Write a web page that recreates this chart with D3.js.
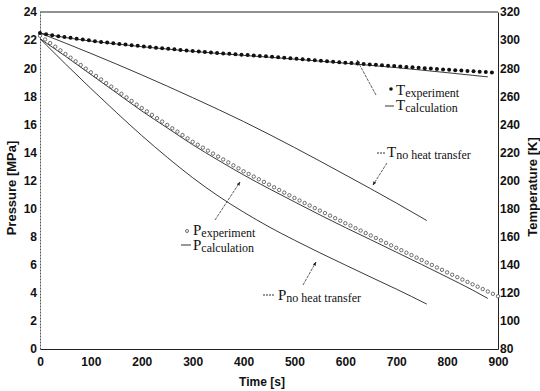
<!DOCTYPE html>
<html>
<head>
<meta charset="utf-8">
<script src="https://cdn.jsdelivr.net/npm/d3@7"></script>
<style>
  body { margin: 0; background: #fff; }
  .tick text { font-family: "Liberation Sans", Arial, sans-serif; font-weight: bold; font-size: 12px; fill: #111; }
  .title { font-family: "Liberation Sans", Arial, sans-serif; font-weight: bold; font-size: 13px; fill: #111; }
  .leg { font-family: "Liberation Serif", "Times New Roman", serif; font-size: 15px; fill: #111; }
  .leg tspan.sub { font-size: 12px; }
</style>
</head>
<body>
<svg id="chart" width="540" height="391"></svg>
<script>
// time axis ticks / pressure ticks / temperature ticks
var timeTicks = [0, 100, 200, 300, 400, 500, 600, 700, 800, 900];
var pTicks = [0, 2, 4, 6, 8, 10, 12, 14, 16, 18, 20, 22, 24];
var tTicks = [80, 100, 120, 140, 160, 180, 200, 220, 240, 260, 280, 300, 320];

// temperature experiment (every 12 s)
var tExpTime = d3.range(0, 889, 12);
var tExp = [305.0, 304.2, 303.5, 302.8, 302.2, 301.6, 301.0, 300.4, 299.8, 299.2,
  298.7, 298.2, 297.7, 297.2, 296.8, 296.3, 295.9, 295.4, 295.0, 294.6,
  294.2, 293.8, 293.4, 293.0, 292.6, 292.2, 291.8, 291.5, 291.1, 290.8,
  290.5, 290.2, 289.9, 289.6, 289.3, 289.0, 288.7, 288.4, 288.1, 287.8,
  287.4, 287.1, 286.7, 286.4, 286.0, 285.7, 285.3, 285.0, 284.6, 284.3,
  283.9, 283.6, 283.3, 283.0, 282.7, 282.4, 282.1, 281.8, 281.5, 281.2,
  280.9, 280.6, 280.3, 280.0, 279.7, 279.4, 279.1, 278.9, 278.6, 278.3,
  278.0, 277.8, 277.5, 277.2, 277.0];

// temperature calculation
var tCalcTime = [0, 50, 100, 150, 200, 250, 300, 350, 400, 450, 500, 550, 600, 650, 700, 750, 800, 850, 880];
var tCalc = [305.0, 301.8, 299.3, 297.2, 295.3, 293.6, 292.0, 290.5, 289.1, 287.8, 286.4, 285.0, 283.5, 282.0, 280.4, 278.6, 276.8, 274.9, 273.8];

// temperature, no heat transfer
var tNoTime = [0, 100, 200, 300, 400, 500, 600, 700, 760];
var tNo = [305.0, 290.5, 275.2, 259.0, 242.0, 223.5, 204.0, 184.0, 171.5];

// pressure experiment (every 10 s)
var pExpTime = d3.range(0, 901, 10);
var pExp = [22.20, 21.94, 21.68, 21.42, 21.16, 20.90, 20.64, 20.38, 20.12, 19.86,
  19.60, 19.34, 19.09, 18.83, 18.58, 18.32, 18.07, 17.81, 17.56, 17.30,
  17.05, 16.81, 16.57, 16.33, 16.09, 15.85, 15.61, 15.37, 15.13, 14.89,
  14.65, 14.44, 14.23, 14.02, 13.81, 13.60, 13.39, 13.18, 12.97, 12.76,
  12.55, 12.36, 12.17, 11.98, 11.79, 11.60, 11.41, 11.22, 11.03, 10.84,
  10.65, 10.47, 10.29, 10.11, 9.93, 9.75, 9.57, 9.39, 9.21, 9.03,
  8.85, 8.68, 8.50, 8.33, 8.15, 7.98, 7.80, 7.63, 7.45, 7.28,
  7.10, 6.93, 6.75, 6.58, 6.40, 6.23, 6.05, 5.88, 5.70, 5.53,
  5.35, 5.18, 5.01, 4.84, 4.67, 4.50, 4.33, 4.16, 3.99, 3.82, 3.65];

// pressure calculation
var pCalcTime = [0, 50, 100, 150, 200, 250, 300, 350, 400, 450, 500, 550, 600, 650, 700, 750, 800, 850, 880];
var pCalc = [22.1, 20.85, 19.55, 18.25, 16.95, 15.75, 14.55, 13.45, 12.4, 11.42, 10.48, 9.55, 8.65, 7.78, 6.9, 6.02, 5.12, 4.2, 3.6];

// pressure, no heat transfer
var pNoTime = [0, 50, 100, 150, 200, 250, 300, 350, 400, 450, 500, 550, 600, 650, 700, 760];
var pNo = [22.1, 20.3, 18.55, 16.85, 15.2, 13.65, 12.2, 10.9, 9.75, 8.7, 7.75, 6.85, 5.98, 5.12, 4.27, 3.2];

var svg = d3.select("#chart");
var plotL = 40, plotR = 498, plotT = 12, plotB = 349;

var x = d3.scaleLinear().domain([0, 900]).range([plotL, plotR]);
var yP = d3.scaleLinear().domain([0, 24]).range([plotB, plotT]);
var yT = d3.scaleLinear().domain([80, 320]).range([plotB, plotT]);

function pairs(ts, vs) {
  return ts.map(function (t, i) { return [t, vs[i]]; });
}

// frame
svg.append("line").attr("x1", plotL).attr("x2", plotR).attr("y1", plotT).attr("y2", plotT)
  .attr("stroke", "#222").attr("stroke-width", 1);

svg.append("g").attr("transform", "translate(0," + plotB + ")")
  .call(d3.axisBottom(x).tickValues(timeTicks).tickSize(0).tickPadding(8))
  .call(function (g) { g.select(".domain").attr("stroke", "#222"); });

svg.append("g").attr("transform", "translate(" + plotL + ",0)")
  .call(d3.axisLeft(yP).tickValues(pTicks).tickSize(0).tickPadding(3))
  .call(function (g) { g.select(".domain").attr("stroke", "#555").attr("stroke-dasharray", "2,1"); });

svg.append("g").attr("transform", "translate(" + plotR + ",0)")
  .call(d3.axisRight(yT).tickValues(tTicks).tickSize(0).tickPadding(2))
  .call(function (g) { g.select(".domain").attr("stroke", "#222"); });

// titles
svg.append("text").attr("class", "title").attr("text-anchor", "middle")
  .attr("transform", "translate(16,188) rotate(-90)").text("Pressure  [MPa]");
svg.append("text").attr("class", "title").attr("text-anchor", "middle")
  .attr("transform", "translate(537,187) rotate(-90)").text("Temperature  [K]");
svg.append("text").attr("class", "title").attr("text-anchor", "middle")
  .attr("x", 262).attr("y", 386).style("font-size", "12px").text("Time  [s]");

// lines
var lineP = d3.line().x(function (d) { return x(d[0]); }).y(function (d) { return yP(d[1]); }).curve(d3.curveMonotoneX);
var lineT = d3.line().x(function (d) { return x(d[0]); }).y(function (d) { return yT(d[1]); }).curve(d3.curveMonotoneX);

svg.append("path").datum(pairs(tNoTime, tNo)).attr("d", lineT)
  .attr("fill", "none").attr("stroke", "#222").attr("stroke-width", 0.9);
svg.append("path").datum(pairs(tCalcTime, tCalc)).attr("d", lineT)
  .attr("fill", "none").attr("stroke", "#222").attr("stroke-width", 0.9);
svg.append("path").datum(pairs(pNoTime, pNo)).attr("d", lineP)
  .attr("fill", "none").attr("stroke", "#222").attr("stroke-width", 0.9);
svg.append("path").datum(pairs(pCalcTime, pCalc)).attr("d", lineP)
  .attr("fill", "none").attr("stroke", "#222").attr("stroke-width", 0.9);

// markers
svg.append("g").selectAll("circle").data(pairs(pExpTime, pExp)).enter().append("circle")
  .attr("cx", function (d) { return x(d[0]); })
  .attr("cy", function (d) { return yP(d[1]) - 1.5; })
  .attr("r", 1.7).attr("fill", "#fff").attr("stroke", "#333").attr("stroke-width", 0.7);

svg.append("g").selectAll("circle").data(pairs(tExpTime, tExp)).enter().append("circle")
  .attr("cx", function (d) { return x(d[0]); })
  .attr("cy", function (d) { return yT(d[1]); })
  .attr("r", 2).attr("fill", "#111");

// annotations
var defs = svg.append("defs");
defs.append("marker").attr("id", "head").attr("viewBox", "0 0 10 10")
  .attr("refX", 9).attr("refY", 5).attr("markerWidth", 5).attr("markerHeight", 5)
  .attr("orient", "auto")
  .append("path").attr("d", "M0,1 L10,5 L0,9 Z").attr("fill", "#222");

var arrows = [
  [376, 95, 357, 60],
  [387, 163, 373, 185],
  [215, 220, 240, 182],
  [303, 285, 316, 262]
];
svg.append("g").selectAll("line").data(arrows).enter().append("line")
  .attr("x1", function (d) { return d[0]; }).attr("y1", function (d) { return d[1]; })
  .attr("x2", function (d) { return d[2]; }).attr("y2", function (d) { return d[3]; })
  .attr("stroke", "#333").attr("stroke-width", 0.8).attr("stroke-dasharray", "3,1")
  .attr("marker-end", "url(#head)");

function legend(letter, sub, tx, ty) {
  var t = svg.append("text").attr("class", "leg").attr("x", tx).attr("y", ty);
  t.append("tspan").text(letter);
  t.append("tspan").attr("class", "sub").attr("dy", 2).text(sub);
}
// symbols
svg.append("circle").attr("cx", 391).attr("cy", 89).attr("r", 1.8).attr("fill", "#111");
svg.append("line").attr("x1", 385).attr("x2", 394).attr("y1", 106).attr("y2", 106).attr("stroke", "#333");
svg.append("line").attr("x1", 377).attr("x2", 385).attr("y1", 153).attr("y2", 153).attr("stroke", "#333").attr("stroke-dasharray", "2,1");
svg.append("circle").attr("cx", 187).attr("cy", 231).attr("r", 1.5).attr("fill", "#fff").attr("stroke", "#333").attr("stroke-width", 0.7);
svg.append("line").attr("x1", 181).attr("x2", 191).attr("y1", 245).attr("y2", 245).attr("stroke", "#333");
svg.append("line").attr("x1", 263).attr("x2", 274).attr("y1", 295).attr("y2", 295).attr("stroke", "#333").attr("stroke-dasharray", "2,1");

legend("T", "experiment", 396, 95);
legend("T", "calculation", 396, 110);
legend("T", "no heat transfer", 387, 157);
legend("P", "experiment", 193, 235);
legend("P", "calculation", 193, 250);
legend("P", "no heat transfer", 278, 300);
</script>
</body>
</html>
